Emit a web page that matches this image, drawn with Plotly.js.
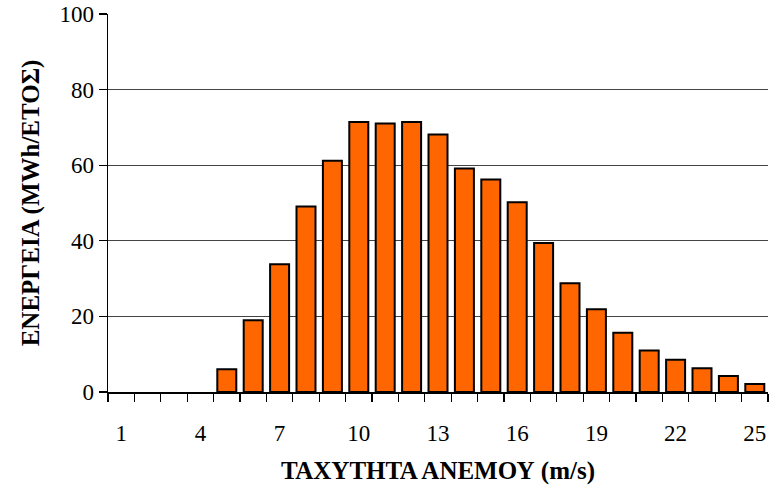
<!DOCTYPE html>
<html>
<head>
<meta charset="utf-8">
<script src="https://cdn.plot.ly/plotly-3.0.1.min.js"></script>
<style>html,body{margin:0;padding:0;background:#fff;}</style>
</head>
<body>
<div id="chart" style="width:778px;height:488px;"></div>
<script>
const windSpeeds = [1,2,3,4,5,6,7,8,9,10,11,12,13,14,15,16,17,18,19,20,21,22,23,24,25];
const energy = [0,0,0,0,6,19,33.8,49.1,61.2,71.4,71,71.4,68.1,59.1,56.2,50.2,39.4,28.8,21.9,15.7,11,8.5,6.3,4.2,2.1];
const xTickVals = [1,4,7,10,13,16,19,22,25];
const yTickVals = [0,20,40,60,80,100];
const xTitle = 'ΤΑΧΥΤΗΤΑ ΑΝΕΜΟΥ (m/s)';
const yTitle = 'ΕΝΕΡΓΕΙΑ (MWh/ΕΤΟΣ)';

const font = '"Liberation Serif", "Times New Roman", serif';

Plotly.newPlot('chart', [{
  type: 'bar',
  x: windSpeeds,
  y: energy,
  marker: {color: '#FF6600', line: {color: '#000000', width: energy.map(v => v > 0 ? 2 : 0)}},
  width: 0.72,
  hoverinfo: 'x+y'
}], {
  width: 778, height: 488,
  margin: {l: 108, r: 10, t: 14, b: 96},
  paper_bgcolor: '#fff', plot_bgcolor: '#fff',
  showlegend: false,
  font: {family: font, color: '#000', size: 23},
  xaxis: {
    range: [0.5, 25.5],
    tickmode: 'array', tickvals: xTickVals, ticktext: xTickVals.map(String),
    ticks: '', showgrid: false, zeroline: false,
    showline: true, linecolor: '#000', linewidth: 1.5,
    ticklabelstandoff: 20,
    minor: {tick0: 0.5, dtick: 1, ticks: 'outside', ticklen: 8, tickcolor: '#000', tickwidth: 1.2, showgrid: false},
    tickfont: {family: font, size: 23},
    title: {text: xTitle, font: {family: font, size: 25, weight: 'bold'}, standoff: 16}
  },
  yaxis: {
    range: [0, 100],
    tickmode: 'array', tickvals: yTickVals,
    ticks: 'outside', ticklen: 8, tickcolor: '#000', tickwidth: 1.2,
    showgrid: true, gridcolor: '#444', gridwidth: 1,
    zeroline: false, showline: true, linecolor: '#000', linewidth: 1.5,
    tickfont: {family: font, size: 23},
    title: {text: yTitle, font: {family: font, size: 25, weight: 'bold'}, standoff: 12}
  }
}, {displayModeBar: false, staticPlot: true});
</script>
</body>
</html>
